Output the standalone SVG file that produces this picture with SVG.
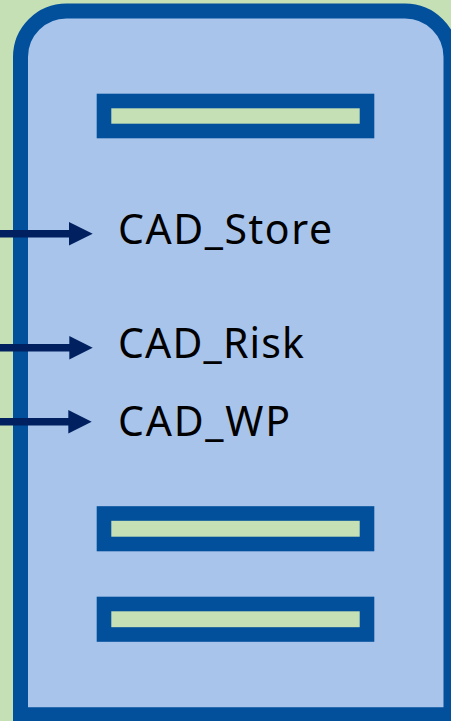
<svg xmlns="http://www.w3.org/2000/svg" width="451" height="721" viewBox="0 0 451 721">
  <defs>
    <style>
      .bg { fill: #c5e0b4; }
      .body { fill: #a8c4ea; stroke: #024f9b; stroke-width: 15; }
      .slot { fill: #c5e0b4; stroke: #024f9b; stroke-width: 14.6; }
      .lbl { font-family: "Noto Sans", "Open Sans", "DejaVu Sans", sans-serif; font-size: 41px; fill: #000000; }
      .conn { stroke: #002060; stroke-width: 7.5; fill: none; }
      .head { fill: #002060; }
    </style>
  </defs>
  <rect class="bg" x="0" y="0" width="451" height="721"/>
  <g id="server">
    <path class="body" d="M20.5,714.8 L20.5,57 A46,46 0 0 1 66.5,11 L405,11 A46,46 0 0 1 451,57 L451,714.8 Z"/>
  </g>
  <g id="slot1"><rect class="slot" x="104" y="101" width="263" height="30"/></g>
  <g id="slot2"><rect class="slot" x="104" y="513.5" width="263" height="30.5"/></g>
  <g id="slot3"><rect class="slot" x="104" y="604" width="263" height="30.5"/></g>
  <g id="connectors">
    <line class="conn" x1="0" y1="233.7" x2="70" y2="233.7"/>
    <polygon class="head" points="69,222 92.7,233.7 69,245.4"/>
    <line class="conn" x1="0" y1="347.8" x2="70" y2="347.8"/>
    <polygon class="head" points="69.3,336 92.7,347.8 69.3,359.5"/>
    <line class="conn" x1="0" y1="421.8" x2="69" y2="421.8"/>
    <polygon class="head" points="68.3,410 91.7,421.8 68.3,433.5"/>
  </g>
  <g id="label-store"><text class="lbl" x="118" y="244" textLength="214" lengthAdjust="spacing">CAD_Store</text></g>
  <g id="label-risk"><text class="lbl" x="118" y="358.3" textLength="186" lengthAdjust="spacing">CAD_Risk</text></g>
  <g id="label-wp"><text class="lbl" x="118" y="435.7" textLength="172" lengthAdjust="spacing">CAD_WP</text></g>
</svg>
